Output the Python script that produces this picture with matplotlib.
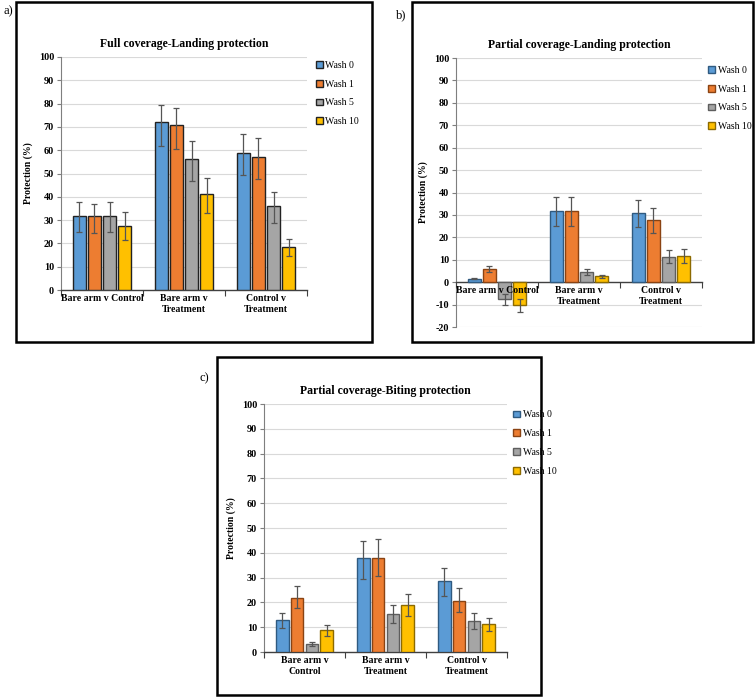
import matplotlib
matplotlib.use("Agg")
import matplotlib.pyplot as plt
from matplotlib.patches import Rectangle
import numpy as np

plt.rcParams['font.family'] = ['Liberation Serif', 'DejaVu Serif']
plt.rcParams['axes.unicode_minus'] = False

categories = ["Bare arm v Control", "Bare arm v\nTreatment", "Control v\nTreatment"]
categories_c = ["Bare arm v\nControl", "Bare arm v\nTreatment", "Control v\nTreatment"]
series = ["Wash 0", "Wash 1", "Wash 5", "Wash 10"]

# panel a: full coverage - landing
a_vals = [[31.7, 72.0, 59.0], [31.7, 70.7, 57.1], [31.7, 56.3, 36.0], [27.6, 41.0, 18.6]]
a_low = [[25.0, 61.8, 49.2], [24.6, 60.5, 47.5], [25.0, 46.8, 28.8], [21.6, 33.0, 14.6]]
a_high = [[37.8, 79.3, 66.8], [37.0, 78.0, 65.3], [37.8, 64.0, 42.2], [33.4, 48.0, 22.0]]

# panel b: partial coverage - landing
b_vals = [[1.5, 31.8, 31.0], [6.0, 31.8, 27.6], [-7.7, 4.5, 11.4], [-10.4, 2.6, 11.8]]
b_low = [[1.2, 25.0, 24.4], [4.5, 25.0, 21.8], [-10.0, 3.0, 8.5], [-13.2, 2.0, 8.7]]
b_high = [[1.8, 37.8, 36.8], [7.3, 37.8, 32.9], [-5.5, 5.8, 14.5], [-7.3, 3.2, 14.8]]

# panel c: partial coverage - biting
c_vals = [[12.8, 37.8, 28.6], [21.6, 37.8, 20.6], [3.2, 15.4, 12.6], [8.7, 18.8, 11.1]]
c_low = [[9.6, 29.6, 22.6], [17.9, 30.5, 16.1], [2.4, 11.8, 9.4], [6.5, 14.4, 8.5]]
c_high = [[15.8, 44.6, 34.0], [26.6, 45.4, 25.8], [4.2, 19.1, 15.8], [10.9, 23.3, 13.8]]

colors = ["#5B9BD5", "#ED7D31", "#A5A5A5", "#FFC000"]
edges = ["#2F5A80", "#8A4313", "#5E5E5E", "#8C6A00"]

W, H = 755, 698
fig = plt.figure(figsize=(W / 100, H / 100), dpi=100)


def px_axes(x0, y0, x1, y1):
    return fig.add_axes([x0 / W, 1 - y1 / H, (x1 - x0) / W, (y1 - y0) / H])


def draw_panel(ax, title, cats, vals, low, high, ymin, ymax, edge_list, leg_xy):
    x = np.arange(len(cats))
    pitch, bw = 0.183, 0.155
    handles = []
    for i, name in enumerate(series):
        v = np.array(vals[i])
        yerr = [v - np.array(low[i]), np.array(high[i]) - v]
        b = ax.bar(x + (i - 1.5) * pitch, v, bw, color=colors[i], edgecolor=edge_list[i],
                   linewidth=1.0, label=name, zorder=3)
        ax.errorbar(x + (i - 1.5) * pitch, v, yerr=yerr, fmt='none', ecolor='#555555',
                    elinewidth=0.9, capsize=2.5, capthick=0.9, zorder=4)
        handles.append(b)
    ax.set_xlim(-0.5, len(cats) - 0.5)
    ax.set_ylim(ymin, ymax)
    ax.set_yticks(np.arange(ymin, ymax + 1, 10))
    ax.yaxis.grid(True, color='#D9D9D9', linewidth=0.8, zorder=0)
    ax.set_axisbelow(True)
    ax.xaxis.set_zorder(5)
    for s in ['top', 'right']:
        ax.spines[s].set_visible(False)
    ax.spines['left'].set_color('#7F7F7F')
    ax.spines['bottom'].set_color('#404040')
    ax.spines['bottom'].set_linewidth(1.0)
    if ymin < 0:
        ax.spines['bottom'].set_position(('data', 0))
    ax.set_xticks(np.arange(-0.5, len(cats)), minor=False)
    ax.set_xticklabels([])
    ax.set_xticks(x, minor=True)
    ax.set_xticklabels(cats, minor=True, fontsize=7, fontweight='bold')
    ax.tick_params(axis='x', which='major', length=4, color='#404040', direction='out')
    ax.tick_params(axis='x', which='minor', length=0, pad=3)
    ax.tick_params(axis='y', length=3, color='#7F7F7F', labelsize=7.3, pad=2)
    for t in ax.get_yticklabels():
        t.set_fontweight('bold')
    ax.set_ylabel("Protection (%)", fontsize=7, fontweight='bold', labelpad=4)
    ax.set_title(title, fontsize=8.5, fontweight='bold', pad=7)
    ax.legend(handles=handles, loc='upper left', bbox_to_anchor=leg_xy, frameon=False,
              fontsize=7, handlelength=0.7, handleheight=0.7, handletextpad=0.25,
              labelspacing=1.0, borderaxespad=0)


ax_a = px_axes(61, 57, 307, 290)
draw_panel(ax_a, "Full coverage-Landing protection", categories, a_vals, a_low, a_high,
           0, 100, ["#222222"] * 4, (1.02, 1.0))

ax_b = px_axes(456, 58, 702, 327)
draw_panel(ax_b, "Partial coverage-Landing protection", categories, b_vals, b_low, b_high,
           -20, 100, edges, (1.01, 0.985))

ax_c = px_axes(264, 404, 507, 652)
draw_panel(ax_c, "Partial coverage-Biting protection", categories_c, c_vals, c_low, c_high,
           0, 100, edges, (1.01, 0.99))

# panel frames
for (x0, y0, x1, y1) in [(16, 2, 372, 342), (412, 2, 753, 342), (217, 357, 541, 695)]:
    fig.add_artist(Rectangle((x0 / W, 1 - y1 / H), (x1 - x0) / W, (y1 - y0) / H,
                             transform=fig.transFigure, fill=False, edgecolor='black',
                             linewidth=1.8))

fig.text(4 / W, 1 - 14 / H, "a)", fontsize=9)
fig.text(396 / W, 1 - 18 / H, "b)", fontsize=9)
fig.text(199 / W, 1 - 381 / H, "c)", fontsize=9)

fig.savefig("out.png", dpi=100)
